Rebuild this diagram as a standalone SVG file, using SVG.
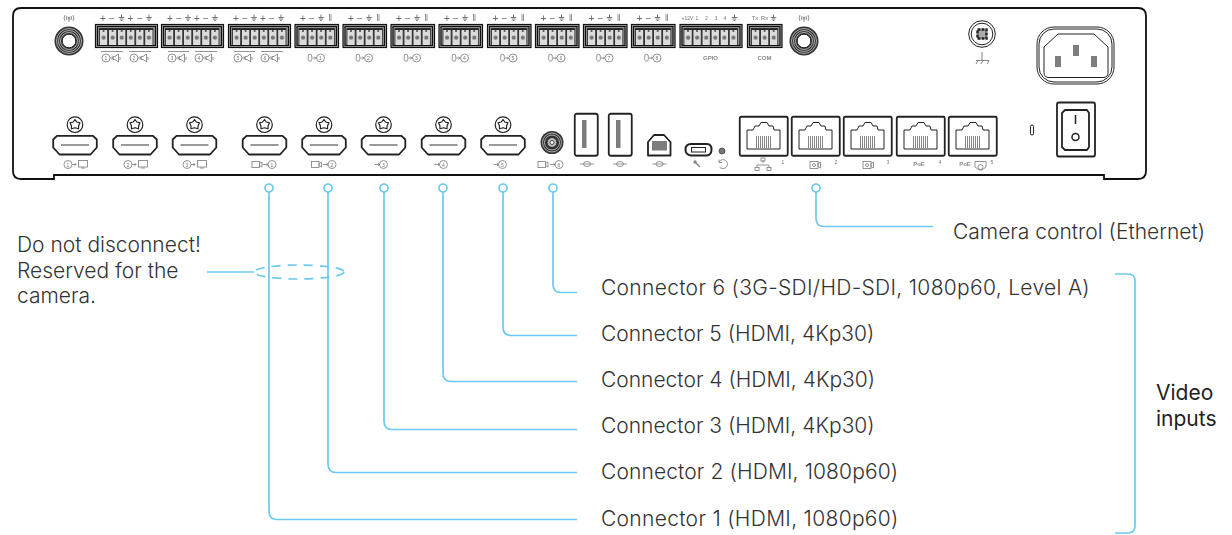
<svg xmlns="http://www.w3.org/2000/svg" xmlns:xlink="http://www.w3.org/1999/xlink" width="1232" height="535" viewBox="0 0 1232 535">
<style>
.lbl{font-family:Inter,"Liberation Sans",sans-serif;font-weight:300;font-size:21px;fill:#333}
.wide{letter-spacing:.31px}
.vid{font-family:Inter,"Liberation Sans",sans-serif;font-weight:400;font-size:21px;fill:#222}
.sm{font-family:"Liberation Sans",Arial,sans-serif;font-size:5px;fill:#777;text-anchor:middle;filter:url(#gs)}
.smb{font-family:"Liberation Sans",Arial,sans-serif;font-size:6px;font-weight:700;fill:#888;text-anchor:middle;filter:url(#gs)}
.pm{font-family:"Liberation Sans",Arial,sans-serif;font-size:10px;fill:#666;text-anchor:middle;filter:url(#gs)}
.ln{fill:none;stroke:#222;stroke-width:1.8}
.k{fill:none;stroke:#222;stroke-width:1}
.ic{fill:none;stroke:#888;stroke-width:.9}
.g{fill:#7d7d7d}
.lead{fill:none;stroke:#6cc9ef;stroke-width:1.7}
</style>
<defs>
<filter id="gs" x="-50%" y="-50%" width="200%" height="200%" color-interpolation-filters="sRGB"><feOffset dx="0" dy="0"/></filter>
<pattern id="pins" width="9.07" height="24" patternUnits="userSpaceOnUse" x="4" y="0">
<rect width="9.07" height="24" fill="#333"/>
<rect x=".9" y="5" width="7.3" height="16" fill="#dcdcdc"/>
<path d="M0 5.500H9.070" stroke="#222" stroke-width="1"/><path d="M4.500 4V8" stroke="#222" stroke-width="1.200"/>
<circle cx="4.600" cy="13.700" r="2.100" fill="#777"/>
</pattern>
<g id="phx3"><rect x=".5" y=".5" width="34.500" height="23" fill="#aaa" stroke="#111" stroke-width="1.200"/><rect x="2.500" y="2.500" width="30.500" height="19" fill="#999" stroke="#111" stroke-width="1.200"/><rect x="4" y="4" width="27.200" height="17" fill="url(#pins)"/></g>
<g id="phx4"><rect x=".5" y=".5" width="43.500" height="23" fill="#aaa" stroke="#111" stroke-width="1.200"/><rect x="2.500" y="2.500" width="39.500" height="19" fill="#999" stroke="#111" stroke-width="1.200"/><rect x="4" y="4" width="36.300" height="17" fill="url(#pins)"/></g>
<g id="phx6"><rect x=".5" y=".5" width="62" height="23" fill="#aaa" stroke="#111" stroke-width="1.200"/><rect x="2.500" y="2.500" width="58" height="19" fill="#999" stroke="#111" stroke-width="1.200"/><rect x="4" y="4" width="54.400" height="17" fill="url(#pins)"/></g>
<path id="gnd" d="M-2.800 0H2.800M-1.800 1.500H1.800M-.8 3H.8M0 0V-3" fill="none" stroke="#777" stroke-width="1"/>
<g id="pair"><circle cx="-5" cy="0" r="4" class="ic"/><path d="M-1 0H2M1 -1.500L2.500 0L1 1.500" class="ic"/></g>
<g id="spk"><path d="M-3 -1.500H-1L2.500 -4V4L-1 1.500H-3Z" class="ic"/><path d="M4 -1V2" class="ic"/></g>
<g id="mon"><rect x="-4.500" y="-3.500" width="9" height="6.500" class="ic"/><path d="M-2 4H2" class="ic"/></g>
<g id="cam"><rect x="-5" y="-3" width="7.500" height="6" class="ic"/><path d="M2.500 -1L5 -2.500V2.500L2.500 1Z" class="ic"/></g>
<g id="mic"><rect x="-1.800" y="-3.800" width="3.600" height="7" rx="1.800" class="ic"/><path d="M2.500 0H5.500M4.500 -1.200L6 0L4.500 1.200" class="ic"/></g>
<g id="inarrow"><circle cx="3" cy="0" r="4" class="ic"/><path d="M-6 0H-1M-2.500 -1.500L-.8 0L-2.500 1.500" class="ic"/></g>
<g id="usb"><path d="M-7 0H7" class="ic"/><ellipse cx="0" cy="0" rx="3.500" ry="2.500" class="ic"/></g>
<g id="hdmi">
<circle cx="0" cy="-10.300" r="7.800" fill="none" stroke="#222" stroke-width="1.200"/><path d="M0 -15.500L1.800 -13L5 -12.200L3.600 -9.200L3.500 -6.200L0 -7.300L-3.500 -6.200L-3.600 -9.200L-5 -12.200L-1.800 -13Z" fill="none" stroke="#222" stroke-width="1.200" stroke-linejoin="round"/>
<path d="M-18 .8H18L21.800 4.500V12.500L15.500 19.500H-15.500L-21.800 12.500V4.500Z" class="ln" stroke-linejoin="round"/>
<path d="M-14 10H14" stroke="#777" stroke-width="1.500"/>
</g>
<g id="rj">
<rect x=".75" y=".75" width="48" height="39" rx="1.500" class="ln"/>
<path d="M8 33V14H14L16 10H20L22 6.500H28L30 10H34L35 14H41V33Z" class="k"/>
<path d="M17.500 20V32M19.500 20V32M21.500 20V32M23.500 20V32M25.500 20V32M27.500 20V32M29.500 20V32M31.500 20V32" stroke="#777" stroke-width=".9"/>
</g>
<g id="ant"><circle r="14.500" fill="#333"/><circle r="12.500" fill="none" stroke="#ccc" stroke-width=".8"/><circle r="10.500" fill="none" stroke="#ccc" stroke-width=".8"/><circle r="8.500" fill="none" stroke="#ccc" stroke-width=".8"/><circle r="6.800" fill="#fff" stroke="#222"/><path d="M0 -19V-24" stroke="#888"/><circle cy="-23" r="1" class="ic"/><path d="M-2 -21A2.500 3 0 0 1 -2 -25M2 -21A2.500 3 0 0 0 2 -25M-4 -20A4 5 0 0 1 -4 -26M4 -20A4 5 0 0 0 4 -26" class="ic"/></g>
<g id="usba"><rect x=".75" y=".75" width="23" height="42" rx="2" class="ln"/><rect x="8" y="7" width="4.500" height="28" class="g"/></g>
<g id="poecam"><rect x="-5" y="-3.500" width="8" height="7" class="ic"/><circle cx="-1" cy="0" r="1.500" class="ic"/><path d="M3 -1.500L5.500 -3V3L3 1.500Z" class="ic"/></g>
</defs>
<rect width="1232" height="535" fill="#fff"/>

<g id="chassis"><path d="M21 8H1138Q1146 8 1146 16V171Q1146 179 1138 179H1104V175H54V179H21Q13 179 13 171V16Q13 8 21 8Z" fill="#fff" stroke="#111" stroke-width="1.800"/></g>

<g id="antenna-1" transform="translate(69,41)"><use href="#ant"/></g>
<g id="antenna-2" transform="translate(804,41)"><use href="#ant"/></g>

<g id="audio-out-1-2"><use href="#phx6" x="95" y="24"/>
<text class="pm" x="103" y="21.500">+</text><text class="pm" x="112" y="21.500">−</text><use href="#gnd" x="121.500" y="17.500"/><text class="pm" x="130.500" y="21.500">+</text><text class="pm" x="140" y="21.500">−</text><use href="#gnd" x="149" y="17.500"/>
<path d="M101 51.500H123M129 51.500H151" class="ic"/><use href="#pair" x="111" y="58"/><use href="#spk" x="116" y="58"/><use href="#pair" x="139" y="58"/><use href="#spk" x="144" y="58"/><text class="sm" x="106" y="60">1</text><text class="sm" x="134" y="60">2</text></g>
<g id="audio-out-3-4"><use href="#phx6" x="161" y="24"/>
<text class="pm" x="170" y="21.500">+</text><text class="pm" x="179" y="21.500">−</text><use href="#gnd" x="188" y="17.500"/><text class="pm" x="197" y="21.500">+</text><text class="pm" x="206" y="21.500">−</text><use href="#gnd" x="215" y="17.500"/>
<path d="M168 51.500H189M195 51.500H217" class="ic"/><use href="#pair" x="177" y="58"/><use href="#spk" x="182" y="58"/><use href="#pair" x="204" y="58"/><use href="#spk" x="209" y="58"/><text class="sm" x="172" y="60">3</text><text class="sm" x="199" y="60">4</text></g>
<g id="audio-out-5-6"><use href="#phx6" x="228" y="24"/>
<text class="pm" x="236" y="21.500">+</text><text class="pm" x="245" y="21.500">−</text><use href="#gnd" x="254" y="17.500"/><text class="pm" x="263" y="21.500">+</text><text class="pm" x="272" y="21.500">−</text><use href="#gnd" x="281" y="17.500"/>
<path d="M234 51.500H255M261 51.500H283" class="ic"/><use href="#pair" x="243" y="58"/><use href="#spk" x="248" y="58"/><use href="#pair" x="270" y="58"/><use href="#spk" x="275" y="58"/><text class="sm" x="238" y="60">5</text><text class="sm" x="265" y="60">6</text></g>

<g id="mic-1" transform="translate(294.500,24)"><use href="#phx4"/><text class="pm" y="-2.500" x="8.500">+</text><text class="pm" y="-2.500" x="17.500">−</text><use href="#gnd" x="26.500" y="-6.500"/><path d="M35 -10V-3M36.500 -10V-3" class="ic"/><use href="#mic" x="15.500" y="34"/><circle cx="26" cy="34" r="4" class="ic"/><text class="sm" x="26" y="36">1</text></g>
<g id="mic-2" transform="translate(342.500,24)"><use href="#phx4"/><text class="pm" y="-2.500" x="8.500">+</text><text class="pm" y="-2.500" x="17.500">−</text><use href="#gnd" x="26.500" y="-6.500"/><path d="M35 -10V-3M36.500 -10V-3" class="ic"/><use href="#mic" x="15.500" y="34"/><circle cx="26" cy="34" r="4" class="ic"/><text class="sm" x="26" y="36">2</text></g>
<g id="mic-3" transform="translate(390.500,24)"><use href="#phx4"/><text class="pm" y="-2.500" x="8.500">+</text><text class="pm" y="-2.500" x="17.500">−</text><use href="#gnd" x="26.500" y="-6.500"/><path d="M35 -10V-3M36.500 -10V-3" class="ic"/><use href="#mic" x="15.500" y="34"/><circle cx="26" cy="34" r="4" class="ic"/><text class="sm" x="26" y="36">3</text></g>
<g id="mic-4" transform="translate(438.500,24)"><use href="#phx4"/><text class="pm" y="-2.500" x="8.500">+</text><text class="pm" y="-2.500" x="17.500">−</text><use href="#gnd" x="26.500" y="-6.500"/><path d="M35 -10V-3M36.500 -10V-3" class="ic"/><use href="#mic" x="15.500" y="34"/><circle cx="26" cy="34" r="4" class="ic"/><text class="sm" x="26" y="36">4</text></g>
<g id="mic-5" transform="translate(487,24)"><use href="#phx4"/><text class="pm" y="-2.500" x="8.500">+</text><text class="pm" y="-2.500" x="17.500">−</text><use href="#gnd" x="26.500" y="-6.500"/><path d="M35 -10V-3M36.500 -10V-3" class="ic"/><use href="#mic" x="15.500" y="34"/><circle cx="26" cy="34" r="4" class="ic"/><text class="sm" x="26" y="36">5</text></g>
<g id="mic-6" transform="translate(535,24)"><use href="#phx4"/><text class="pm" y="-2.500" x="8.500">+</text><text class="pm" y="-2.500" x="17.500">−</text><use href="#gnd" x="26.500" y="-6.500"/><path d="M35 -10V-3M36.500 -10V-3" class="ic"/><use href="#mic" x="15.500" y="34"/><circle cx="26" cy="34" r="4" class="ic"/><text class="sm" x="26" y="36">6</text></g>
<g id="mic-7" transform="translate(583,24)"><use href="#phx4"/><text class="pm" y="-2.500" x="8.500">+</text><text class="pm" y="-2.500" x="17.500">−</text><use href="#gnd" x="26.500" y="-6.500"/><path d="M35 -10V-3M36.500 -10V-3" class="ic"/><use href="#mic" x="15.500" y="34"/><circle cx="26" cy="34" r="4" class="ic"/><text class="sm" x="26" y="36">7</text></g>
<g id="mic-8" transform="translate(631,24)"><use href="#phx4"/><text class="pm" y="-2.500" x="8.500">+</text><text class="pm" y="-2.500" x="17.500">−</text><use href="#gnd" x="26.500" y="-6.500"/><path d="M35 -10V-3M36.500 -10V-3" class="ic"/><use href="#mic" x="15.500" y="34"/><circle cx="26" cy="34" r="4" class="ic"/><text class="sm" x="26" y="36">8</text></g>

<g id="gpio" transform="translate(679.500,24)"><use href="#phx6"/><text class="sm" x="8" y="-4.500">+12V</text><text class="sm" x="17.500" y="-4.500">1</text><text class="sm" x="27" y="-4.500">2</text><text class="sm" x="36.500" y="-4.500">3</text><text class="sm" x="45.500" y="-4.500">4</text><use href="#gnd" x="55" y="-6.500"/><text class="smb" x="31" y="36">GPIO</text></g>
<g id="com" transform="translate(747,24)"><use href="#phx3"/><text class="sm" x="8" y="-4.500" style="font-size:6px">Tx</text><text class="sm" x="17.500" y="-4.500" style="font-size:6px">Rx</text><use href="#gnd" x="26.500" y="-6.500"/><text class="smb" x="17.500" y="36">COM</text></g>

<g id="ground-screw"><circle cx="982" cy="34" r="13.300" class="k"/><circle cx="982" cy="34" r="10.800" class="k"/><rect x="977.500" y="29.500" width="9" height="9" fill="#aaa" stroke="#222" stroke-width="2.500" stroke-dasharray="3 1"/><path d="M982 52V60M976 60.500H989M978 60.500L976 64M983 60.500L981 64M989 60.500L987 64" stroke="#777" stroke-width=".9" fill="none"/></g>
<g id="power-inlet"><rect x="1037" y="27" width="77" height="57" rx="17" class="k"/><rect x="1039" y="29" width="73" height="53" rx="15" class="k"/><path d="M1049 77.500H1103Q1108 77.500 1108 72.500V47L1094 34H1058L1044 47V72.500Q1044 77.500 1049 77.500Z" fill="#fff" stroke="#222"/><rect x="1055" y="56" width="6" height="11" class="g"/><rect x="1073" y="45" width="6" height="11" class="g"/><rect x="1091" y="56" width="6" height="11" class="g"/></g>
<g id="power-switch"><rect x="1057" y="102.500" width="38" height="54" rx="2" class="ln"/><path d="M1065 110H1087L1089 113V147L1087 150H1065L1062 147V113Z" class="ln" stroke-linejoin="round"/><path d="M1075.500 115V124" stroke="#222" stroke-width="1.500"/><circle cx="1075.500" cy="137" r="3.500" fill="none" stroke="#222" stroke-width="1.500"/></g>
<g id="lock-slot"><rect x="1030.500" y="125" width="3" height="10" rx="1.500" class="k"/></g>

<g id="hdmi-out-1" transform="translate(75,135)"><use href="#hdmi"/></g>
<g id="hdmi-out-2" transform="translate(135,135)"><use href="#hdmi"/></g>
<g id="hdmi-out-3" transform="translate(194.500,135)"><use href="#hdmi"/></g>
<g id="hdmi-in-1" transform="translate(264.500,135)"><use href="#hdmi"/></g>
<g id="hdmi-in-2" transform="translate(324,135)"><use href="#hdmi"/></g>
<g id="hdmi-in-3" transform="translate(383.500,135)"><use href="#hdmi"/></g>
<g id="hdmi-in-4" transform="translate(443.500,135)"><use href="#hdmi"/></g>
<g id="hdmi-in-5" transform="translate(503,135)"><use href="#hdmi"/></g>

<g id="labels-hdmi">
<circle cx="68" cy="164.500" r="4" class="ic"/><use href="#mon" x="83" y="164"/><path d="M72 164.500H76M74.500 163L76 164.500L74.500 166" class="ic"/><text class="sm" x="68" y="166.500">1</text>
<circle cx="128" cy="164.500" r="4" class="ic"/><use href="#mon" x="143" y="164"/><path d="M132 164.500H136M134.500 163L136 164.500L134.500 166" class="ic"/><text class="sm" x="128" y="166.500">2</text>
<circle cx="187" cy="164.500" r="4" class="ic"/><use href="#mon" x="202" y="164"/><path d="M191 164.500H195M193.500 163L195 164.500L193.500 166" class="ic"/><text class="sm" x="187" y="166.500">3</text>
<use href="#cam" x="257" y="164.500"/><use href="#inarrow" x="269" y="164.500"/><text class="sm" x="272" y="166.500">1</text>
<use href="#cam" x="316.500" y="164.500"/><use href="#inarrow" x="329" y="164.500"/><text class="sm" x="332" y="166.500">2</text>
<use href="#inarrow" x="380.500" y="164.500"/><text class="sm" x="383.500" y="166.500">3</text>
<use href="#inarrow" x="440.500" y="164.500"/><text class="sm" x="443.500" y="166.500">4</text>
<use href="#inarrow" x="499.500" y="164.500"/><text class="sm" x="502.500" y="166.500">5</text>
</g>

<g id="sdi-in"><circle cx="552" cy="142.500" r="11.500" fill="#333"/><circle cx="552" cy="142.500" r="9.500" fill="none" stroke="#ccc" stroke-width=".8"/><circle cx="552" cy="142.500" r="7.500" fill="none" stroke="#ccc" stroke-width=".8"/><circle cx="552" cy="142.500" r="5" fill="#bbb" stroke="#222"/><circle cx="552" cy="142.500" r="2" fill="#fff" stroke="#222" stroke-width=".8"/><use href="#cam" x="543" y="164.500"/><use href="#inarrow" x="556" y="164.500"/><text class="sm" x="559" y="166.500">6</text></g>
<g id="usb-a-1"><use href="#usba" x="574" y="113"/><use href="#usb" x="587" y="164"/></g>
<g id="usb-a-2"><use href="#usba" x="608" y="113"/><use href="#usb" x="620" y="164"/></g>
<g id="usb-b"><path d="M648 155.500H670.500V142L664 135H654L648 142Z" class="ln" stroke-linejoin="round"/><rect x="652" y="141" width="15" height="9.500" class="g"/><use href="#usb" x="659.500" y="164"/></g>
<g id="micro-usb"><path d="M685.500 149.500Q685.500 144 691 144H707Q711.500 144 711.500 149.500Q711.500 155 707 155.500H691Q685.500 155 685.500 149.500Z" fill="none" stroke="#222" stroke-width="2"/><rect x="691.500" y="147.500" width="14" height="4.500" fill="none" stroke="#222"/><path d="M695 162L700 167" stroke="#888" stroke-width="1.500"/><circle cx="695" cy="162" r="1.700" fill="#888"/></g>
<g id="reset"><circle cx="722" cy="151" r="3" fill="#777" stroke="#333" stroke-width=".7"/><path d="M719 162A4.500 4.500 0 1 1 719.500 167M719 159.500V162.500H722" class="ic"/></g>

<g id="eth-1"><use href="#rj" x="739" y="116"/><path d="M763 160V163M757 168V165H769V168" class="ic"/><rect x="761" y="158" width="4" height="3" class="ic"/><rect x="755" y="167.500" width="4" height="3" class="ic"/><rect x="767" y="167.500" width="4" height="3" class="ic"/><text class="sm" x="783" y="163.500">1</text></g>
<g id="eth-2"><use href="#rj" x="791" y="116"/><use href="#poecam" x="815" y="165"/><text class="sm" x="836" y="163.500">2</text></g>
<g id="eth-3"><use href="#rj" x="843" y="116"/><use href="#poecam" x="868" y="165"/><text class="sm" x="888" y="163.500">3</text></g>
<g id="eth-4"><use href="#rj" x="896" y="116"/><text class="smb" x="919" y="166">PoE</text><text class="sm" x="940" y="163.500">4</text></g>
<g id="eth-5"><use href="#rj" x="948" y="116"/><text class="smb" x="965" y="166">PoE</text><path d="M975 161.500H986V167L982 170H979L975 167Z" class="ic"/><circle cx="980.500" cy="167" r="2.500" class="ic"/><text class="sm" x="992" y="163.500">5</text></g>

<g id="connectors">
<path class="lead" d="M269 192V511Q269 519.500 277 519.500H577"/>
<path class="lead" d="M328 192V464Q328 472.500 336 472.500H577"/>
<path class="lead" d="M384 192V421Q384 429.500 392 429.500H577"/>
<path class="lead" d="M443 192V373Q443 381.500 451 381.500H577"/>
<path class="lead" d="M503 192V327Q503 335.500 511 335.500H577"/>
<path class="lead" d="M553 192V284Q553 292.500 561 292.500H577"/>
<path class="lead" d="M816 192V218Q816 226.500 824 226.500H933"/>
<circle class="lead" cx="269" cy="188" r="4"/><circle class="lead" cx="328" cy="188" r="4"/><circle class="lead" cx="384" cy="188" r="4"/><circle class="lead" cx="443" cy="188" r="4"/><circle class="lead" cx="503" cy="188" r="4"/><circle class="lead" cx="553" cy="188" r="4"/><circle class="lead" cx="816" cy="188" r="4"/>
<path class="lead" d="M207 272H254"/>
<ellipse class="lead" cx="299" cy="272" rx="45" ry="7" stroke-dasharray="9 7"/>
<path class="lead" d="M1115 274H1128Q1135 274 1135 281V526Q1135 533 1128 533H1115"/>
</g>

<g id="texts">
<text class="lbl" x="17" y="252">Do not disconnect!</text>
<text class="lbl" x="17" y="277.500">Reserved for the</text>
<text class="lbl" x="17" y="303">camera.</text>
<text class="lbl" x="953" y="239">Camera control (Ethernet)</text>
<text class="lbl wide" x="601" y="295">Connector 6 (3G-SDI/HD-SDI, 1080p60, Level A)</text>
<text class="lbl" x="601" y="341">Connector 5 (HDMI, 4Kp30)</text>
<text class="lbl" x="601" y="387">Connector 4 (HDMI, 4Kp30)</text>
<text class="lbl" x="601" y="433">Connector 3 (HDMI, 4Kp30)</text>
<text class="lbl" x="601" y="479" style="letter-spacing:.12px">Connector 2 (HDMI, 1080p60)</text>
<text class="lbl" x="601" y="526" style="letter-spacing:.31px">Connector 1 (HDMI, 1080p60)</text>
<text class="vid" x="1156" y="400">Video</text>
<text class="vid" x="1156" y="426">inputs</text>
</g>
</svg>
